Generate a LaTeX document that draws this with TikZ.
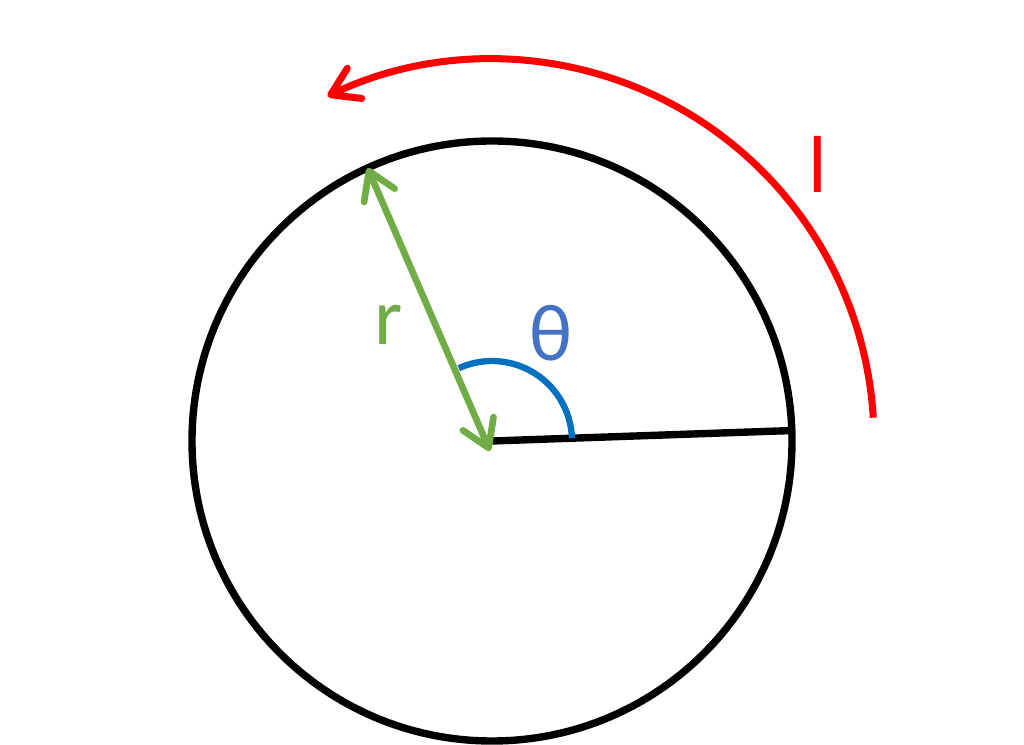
\documentclass[tikz,border=0pt]{standalone}
\usepackage{fontspec}
\setmainfont{Carlito}
\usetikzlibrary{arrows.meta,calc}
\definecolor{radgreen}{HTML}{70AD47}
\definecolor{angblue}{HTML}{0070C0}
\definecolor{txtblue}{HTML}{4472C4}
\definecolor{arcred}{HTML}{FF0000}
\tikzset{
  barb/.tip={Straight Barb[length=15pt,width=19pt,line cap=round,line join=round]},
  biglabel/.style={font=\fontsize{46}{52}\selectfont, inner sep=0pt}
}

\begin{document}
\begin{tikzpicture}[x=0.02cm, y=0.02cm]
\useasboundingbox (0,0) rectangle (1024,744);

\coordinate (O) at (492,303);
\coordinate (rim) at ($(O)+(2:300)$);
\coordinate (rtop) at ($(O)+(114.5:300)$);
\coordinate (rbot) at (490,293);

\draw[line width=4.2pt] (O) circle[radius=300];
\draw[line width=4.2pt] (O) -- (rim);

\draw[angblue, line width=3.6pt] ($(O)+(2:80)$) arc[start angle=2, end angle=114.5, radius=80];
\draw[radgreen, line width=3.8pt, line cap=round, barb-barb] (rbot) -- (rtop);
\draw[arcred, line width=4pt, -barb] ($(O)+(3.5:382)$) arc[start angle=3.5, end angle=115.5, radius=382];

\node[biglabel, text=radgreen] (rlabel) at (389,419) {r};
\node[biglabel, text=txtblue] (thlabel) at (551,411) {θ};
\node[biglabel, text=arcred] (llabel) at (818,580) {l};
\end{tikzpicture}
\end{document}
